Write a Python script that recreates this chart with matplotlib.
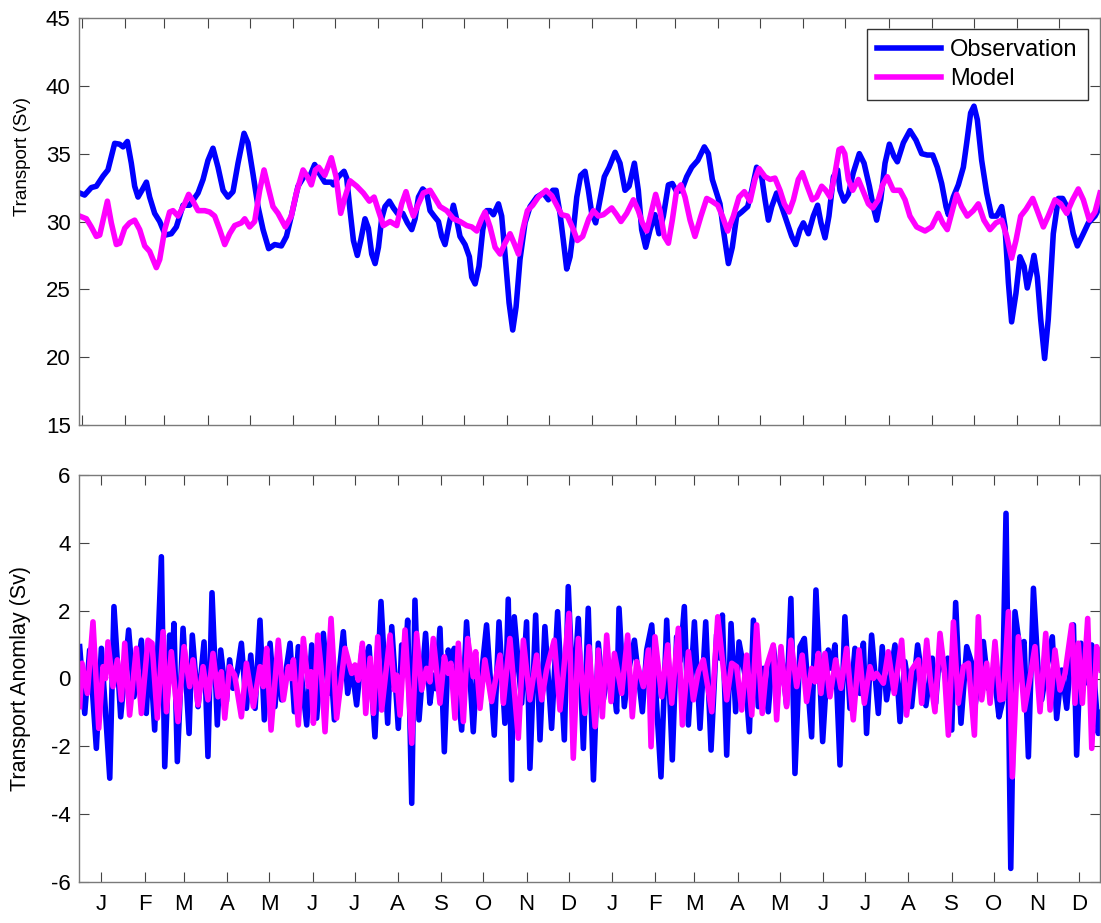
import numpy as np
import matplotlib
matplotlib.use("Agg")
import matplotlib.pyplot as plt

plt.rcParams['font.family'] = ['Liberation Sans', 'DejaVu Sans']
plt.rcParams['axes.unicode_minus'] = False

# ---- calendar (two non-leap years, day 0 = 1 Jan) ----
month_letters = ['J', 'F', 'M', 'A', 'M', 'J', 'J', 'A', 'S', 'O', 'N', 'D'] * 2
month_start_one_year = [0, 31, 59, 90, 120, 151, 181, 212, 243, 273, 304, 334]

# ---- total transport (Sv) ----
obs_transport = [
    (-1.5, 32.1), (2, 31.95), (6.8, 32.5), (10.4, 32.6), (15.2, 33.35), (18.7, 33.8), (23.5, 35.76),
    (27, 35.7), (29.5, 35.5), (32.6, 35.9), (35.4, 34.3), (37.8, 32.6), (40.2, 31.8), (43, 32.3),
    (46.2, 32.9), (48.5, 31.8), (52.1, 30.6), (55.7, 30.0), (59.7, 29.0), (64, 29.1), (67.6, 29.6),
    (72.4, 31.2), (77.1, 31.2), (83.1, 32.1), (86.7, 33.1), (90.2, 34.5), (93.8, 35.4), (97.4, 34.0),
    (101, 32.3), (104.5, 31.8), (108.1, 32.2), (111.7, 34.3), (116, 36.5), (118.8, 35.8), (122.4, 33.5),
    (126, 31.1), (129.6, 29.4), (133.6, 28.0), (137.9, 28.3), (142.7, 28.2), (146.3, 28.9), (149.8, 30.4),
    (154.6, 32.6), (159.4, 33.4), (162.9, 33.3), (166.5, 34.2), (170.1, 33.5), (173.7, 32.9), (178.4, 32.9),
    (179.9, 32.7), (183.5, 33.3), (187.5, 33.7), (189.4, 33.2), (191.8, 30.8), (194.2, 28.6), (197, 27.5),
    (199.4, 28.6), (202.5, 30.2), (204.9, 29.5), (207.3, 27.6), (209.7, 26.9), (212.1, 28.1), (214.4, 30.2),
    (216.8, 31.1), (219.9, 31.5), (222.8, 31.0), (226.4, 30.5), (229.5, 30.6), (232.8, 29.9), (235.9, 29.4),
    (238.3, 30.2), (240.7, 31.8), (243.8, 32.4), (246.6, 32.1), (249, 30.8), (251.9, 30.4), (255, 30.0),
    (257.3, 28.9), (259.7, 28.3), (262.8, 29.9), (265.7, 31.2), (268.1, 30.1), (270.4, 28.9), (274, 28.3),
    (277.1, 27.4), (278.8, 25.9), (281.2, 25.4), (284, 26.7), (286.7, 29.4), (289.5, 30.8), (291.9, 30.8),
    (294.3, 30.5), (297.9, 31.3), (300.2, 30.4), (302.6, 27.6), (305.5, 24.0), (308.1, 22.0), (310.5, 23.7),
    (313.3, 27.2), (316.9, 29.9), (320.5, 31.1), (325.3, 31.8), (330, 32.1), (333.6, 31.6), (336.7, 32.3),
    (339.1, 32.3), (341.9, 30.6), (344.3, 28.6), (346.7, 26.5), (349.1, 27.4), (351.5, 29.4), (353.9, 31.8),
    (356.7, 33.4), (359.8, 33.7), (362.2, 32.3), (364.6, 30.6), (367.4, 29.9), (370.5, 31.6), (373.6, 33.3),
    (377, 34.0), (381.3, 35.1), (384.8, 34.3), (388.4, 32.3), (391.3, 32.6), (395.1, 34.3), (397.9, 32.3),
    (400.3, 29.4), (403.2, 28.1), (406.3, 29.4), (409.8, 30.5), (412.7, 29.1), (415.8, 30.4), (419.4, 32.7),
    (422.2, 32.8), (425.3, 32.2), (428.9, 32.3), (432.5, 33.3), (436.1, 34.0), (440.4, 34.5), (445.1, 35.5),
    (448, 35.0), (450.8, 33.1), (453.9, 32.1), (456.3, 31.3), (458.7, 29.4), (462.3, 26.9), (465.1, 28.1),
    (468.2, 30.4), (471.8, 30.7), (476.1, 31.1), (479, 32.3), (482.5, 34.0), (486.1, 33.3), (488.5, 31.6),
    (490.9, 30.1), (493.3, 31.1), (496.8, 32.1), (500.4, 31.1), (504, 30.0), (507.6, 28.9), (510.4, 28.3),
    (513.5, 29.4), (515.9, 29.9), (519.5, 29.1), (523, 30.4), (526.1, 31.2), (528.5, 29.9), (531.4, 28.8),
    (534.2, 30.4), (537.4, 33.3), (540.4, 33.8), (542.1, 32.3), (545, 31.5), (548.1, 32.0), (551.6, 33.6),
    (555.9, 35.0), (559.3, 34.3), (563.1, 32.6), (565.9, 31.1), (568.3, 30.1), (571.2, 31.6), (574.3, 34.3),
    (577.4, 35.7), (580.7, 34.8), (583.1, 34.4), (587.4, 35.8), (592.1, 36.7), (596.4, 36.0), (600.5, 35.0),
    (604.5, 34.9), (608.4, 34.9), (611.7, 34.0), (614.8, 32.8), (617.9, 31.1), (619.6, 30.5), (623.1, 31.8),
    (626.7, 32.7), (630.3, 34.0), (632.7, 35.8), (635.5, 38.0), (637.9, 38.5), (640.3, 37.5), (643.4, 34.5),
    (647, 32.1), (650.5, 30.4), (654.1, 30.4), (657.7, 31.1), (660.1, 29.6), (662.5, 25.5), (664.8, 22.6),
    (667.9, 24.7), (670.8, 27.4), (673.7, 26.7), (676, 25.1), (678.4, 26.2), (680.8, 27.5), (683.2, 25.9),
    (685.6, 22.8), (688.4, 19.9), (691, 22.8), (694.6, 29.1), (698.2, 31.7), (701.3, 31.7), (705.3, 30.9),
    (708.9, 29.1), (711.8, 28.2), (715.6, 29.0), (719.7, 29.9), (724.4, 30.4), (728, 31.1),
]

model_transport = [
    (-1.5, 30.4), (3.3, 30.2), (6.8, 29.6), (10.4, 28.9), (12.8, 29.0), (15.9, 30.4), (18.3, 31.5),
    (21.1, 29.9), (24.7, 28.3), (27.1, 28.4), (30.7, 29.5), (34.2, 29.9), (37.8, 30.1), (41.4, 29.4),
    (45, 28.2), (48.5, 27.8), (53.3, 26.6), (55.7, 27.2), (59.3, 29.4), (62.8, 30.7), (65.2, 30.8),
    (68.8, 30.4), (73.1, 31.2), (76.4, 32.0), (79.5, 31.5), (83.1, 30.8), (87.9, 30.8), (91.4, 30.7),
    (95, 30.4), (98.6, 29.4), (102.2, 28.3), (105.7, 29.1), (109.3, 29.7), (114.1, 29.9), (116.5, 30.2),
    (120, 29.6), (123.6, 30.0), (127.2, 32.3), (130.3, 33.8), (133.1, 32.6), (136.7, 31.1), (140.3, 30.6),
    (145.5, 29.6), (149.8, 30.4), (153.4, 32.1), (158.2, 33.8), (161.3, 33.3), (164.1, 32.7), (167, 33.8),
    (169.4, 34.0), (173.7, 33.4), (178.4, 34.7), (181.8, 33.3), (185.1, 30.6), (188.2, 31.8), (191.8, 33.0),
    (196.6, 32.6), (201.3, 32.1), (205.6, 31.5), (209, 31.8), (212.1, 30.8), (215.6, 29.7), (220.4, 30.0),
    (225.2, 29.7), (228.7, 31.3), (231.8, 32.2), (234.7, 31.1), (237.1, 30.4), (240.7, 31.3), (244.2, 32.1),
    (249, 32.3), (252.6, 31.7), (256.1, 31.1), (260.9, 30.8), (265.7, 30.2), (270.4, 30.0), (275.2, 29.7),
    (278.8, 29.6), (282.4, 29.3), (285.9, 30.2), (288.3, 30.7), (291.9, 29.6), (295.5, 28.1), (299.1, 27.6),
    (302.6, 28.4), (306.2, 29.1), (309.1, 28.4), (312.2, 27.6), (315.3, 29.4), (318.6, 30.8), (322.4, 31.2),
    (326.4, 31.8), (331.9, 32.3), (336, 31.9), (339.6, 31.2), (343.1, 30.5), (347.2, 30.4), (351.5, 29.4),
    (354.3, 28.6), (358.1, 28.9), (362.5, 30.2), (365.8, 30.8), (369.3, 30.4), (372.9, 30.5), (378.9, 31.0),
    (382.4, 30.5), (385.5, 30.0), (389.6, 30.6), (394.4, 31.6), (397.9, 30.8), (400.8, 29.9), (403.9, 29.3),
    (407, 30.6), (410.3, 32.0), (413.4, 30.8), (416.5, 28.9), (419.4, 28.4), (422.2, 30.1), (425.3, 32.3),
    (428.4, 32.7), (431.3, 31.8), (434.9, 30.1), (438.4, 28.9), (442.7, 30.4), (446.8, 31.7), (450.4, 31.5),
    (454.7, 31.2), (458, 30.4), (461.8, 29.3), (465.9, 30.4), (469.9, 31.8), (473.7, 32.2), (477.8, 31.5),
    (481.3, 33.1), (484.2, 33.9), (488.5, 33.3), (492.1, 33.1), (495.6, 33.2), (499.2, 32.3), (502.3, 31.3),
    (505.7, 30.7), (508.8, 31.6), (512.3, 33.1), (515.2, 33.6), (518.3, 32.7), (522.3, 31.6), (525.4, 31.8),
    (529, 32.6), (531.9, 32.3), (535, 31.8), (538.1, 33.3), (541.4, 35.3), (543.5, 35.4), (545.5, 35.0),
    (548.1, 33.1), (551.2, 32.3), (555.2, 33.1), (558.8, 32.2), (562.4, 31.3), (565.5, 31.0), (569.5, 31.6),
    (572.6, 32.7), (575.9, 33.3), (580.2, 32.3), (585, 32.3), (588.6, 31.6), (592.1, 30.4), (596.9, 29.6),
    (602.9, 29.3), (607.6, 29.6), (612.4, 30.6), (615.5, 29.9), (618.8, 29.4), (621.9, 30.6), (625.5, 32.0),
    (629.1, 31.1), (633.1, 30.4), (637.4, 30.8), (641, 31.3), (645, 30.1), (649.3, 29.4), (653.6, 29.9),
    (657.7, 30.1), (661.3, 28.9), (664.8, 27.3), (667.9, 28.6), (671.3, 30.4), (675.1, 30.9), (679.9, 31.7),
    (683.9, 30.6), (687.5, 29.6), (691, 30.4), (695.8, 31.6), (699.9, 31.3), (704.2, 30.6), (708.4, 31.6),
    (712.5, 32.4), (716.1, 31.6), (720.4, 30.1), (724.4, 30.7), (728, 32.1),
]

# ---- transport anomaly (Sv) ----
obs_anomaly = [
    (-1.5, 0.94), (2.1, -1.03), (5.6, 0.84), (10.4, -2.06), (14.0, 0.89), (20.0, -2.94), (23.0, 2.12),
    (27.8, -1.13), (33.5, 1.43), (37.3, -0.54), (42.6, 1.13), (46.1, -1.03), (48.5, 0.94), (52.1, -1.52),
    (56.9, 3.59), (59.3, -2.60), (62.8, 1.28), (64.3, 0.2), (65.9, 1.62), (68.3, -2.45), (72.4, 1.48),
    (76.7, -1.62), (79.0, 1.28), (83.1, -0.83), (87.4, 1.08), (90.2, -2.30), (93.1, 2.53), (96.9, -1.37),
    (99.3, 0.84), (103.4, -0.68), (105.7, 0.55), (108.1, -0.29), (111.2, 0.2), (114.1, 1.04), (117.7, -0.88),
    (120.8, 0.69), (123.9, -0.88), (127.4, 1.72), (130.5, -1.22), (134.6, 1.04), (138.1, -0.83), (140.5, 0.5),
    (142.9, -0.63), (148.9, 1.04), (152.0, -0.98), (154.8, 0.94), (160.8, -1.37), (164.4, 0.99), (167.9, -1.17),
    (172.7, 1.33), (176.3, -0.44), (178.2, 0.3), (180.6, -1.22), (187.0, 1.38), (190.1, -0.44), (193.0, 0.35),
    (196.5, -0.78), (200.6, 0.94), (203.0, 0.2), (205.4, 0.94), (209.6, -1.72), (213.9, 2.27), (218.7, -1.32),
    (221.6, 1.53), (226.3, -1.47), (228.7, 0.99), (231.1, 0.5), (233.0, 1.72), (235.9, -3.68), (238.2, 2.31),
    (241.1, -1.22), (245.8, 1.33), (248.9, -0.73), (251.3, 0.1), (253.0, -0.3), (256.1, 1.48), (259.2, -2.16),
    (262.0, 0.84), (263.9, 0.4), (266.3, 0.89), (271.6, -1.52), (275.1, 1.67), (279.9, -1.57), (282.3, 0.2),
    (284.7, -0.34), (289.4, 1.58), (294.9, -1.67), (298.3, 1.67), (302.5, -1.32), (304.9, 2.34), (307.3, -2.99),
    (309.2, 1.82), (314.5, -0.73), (318.0, 1.67), (320.4, -2.65), (324.5, 1.87), (327.6, -1.81), (331.1, 1.53),
    (335.9, -1.47), (340.2, 1.97), (345.0, -1.81), (347.8, 2.71), (351.4, -0.68), (355.0, 1.77), (358.6, -2.06),
    (362.1, 2.07), (365.8, -2.99), (369.3, 1.04), (372.9, -0.63), (376.5, 0.3), (380.1, -0.2), (382.4, -0.98),
    (384.1, 2.07), (387.9, -0.83), (390.8, 0.2), (395.1, 1.13), (400.8, -0.98), (403.9, 0.84), (407.5, 1.58),
    (414.1, -2.90), (418.2, 1.72), (422.2, -2.40), (425.3, 1.23), (427.7, 0.5), (430.8, 2.12), (433.7, -1.37),
    (438.0, 1.67), (442.0, -1.47), (446.1, 1.67), (449.9, -2.11), (453.9, 1.3), (456.3, 0.6), (458.0, 1.87),
    (461.1, -2.26), (464.2, 1.62), (467.5, -0.98), (469.9, 1.08), (474.2, 0.1), (477.3, -1.57), (480.2, 1.72),
    (483.7, -0.83), (487.3, 0.3), (490.8, -0.98), (494.4, 0.94), (498.0, -0.2), (500.8, 0.5), (503.9, -0.78),
    (507.0, 2.36), (509.9, -2.80), (513.5, 0.94), (516.6, 1.18), (521.8, -1.72), (524.9, 2.61), (529.7, -1.86),
    (533.7, 0.84), (536.1, 0.3), (538.5, 0.99), (542.1, -2.55), (545.6, 1.82), (549.2, -0.88), (552.8, 0.89),
    (556.4, -0.44), (558.8, 1.04), (561.1, -1.62), (564.7, 1.28), (569.5, -1.03), (572.3, 0.94), (575.4, -0.63),
    (581.4, 0.99), (585.0, -1.27), (588.5, 0.5), (593.3, -0.83), (597.6, 0.99), (603.5, -0.8), (608.1, 0.6),
    (610.5, -0.73), (613.6, 0.94), (616.7, 0.2), (619.1, 0.6), (622.0, -1.52), (624.8, 2.24), (628.6, -1.32),
    (632.7, 0.94), (636.3, 0.45), (638.6, -0.83), (644.6, 1.09), (648.2, -0.3), (651.8, 0.3), (655.8, -1.13),
    (658.2, -0.7), (660.8, 4.87), (664.2, -5.60), (667.2, 1.97), (670.8, 0.84), (673.7, 1.09), (676.8, -2.31),
    (680.4, 2.66), (683.5, 0.4), (686.3, -0.63), (689.9, 0.3), (693.9, 1.23), (697.0, -1.18), (700.6, 0.25),
    (704.2, -0.88), (709.0, 1.58), (711.3, -2.26), (714.4, 1.04), (717.3, -0.14), (722.1, 0.99), (726.8, -1.62),
    (728, -1.0),
]

model_anomaly = [
    (-1.5, -0.83), (0.16, 0.45), (4.0, -0.44), (8.0, 1.67), (12.1, -1.47), (15.2, 0.35), (17.0, 0.0),
    (18.7, 1.08), (22.3, -0.24), (25.4, 0.55), (28.3, -0.63), (30.7, 1.04), (34.2, -1.08), (39.0, 0.89),
    (42.6, -1.03), (47.3, 1.13), (50.2, 1.04), (54.0, -1.17), (58.1, 1.38), (60.5, -0.98), (64.0, 0.79),
    (68.8, -1.27), (73.1, 0.94), (77.1, -0.24), (79.5, 0.55), (83.1, -0.78), (86.7, 0.35), (90.2, -0.63),
    (93.8, 0.74), (97.4, -0.54), (99.8, 0.2), (102.2, -1.17), (105.7, 0.35), (109.3, 0.10), (114.1, -1.13),
    (117.7, 0.45), (122.7, -0.83), (127.4, 0.35), (129.8, -0.24), (132.2, 0.89), (135.3, -1.52), (140.5, 1.13),
    (144.1, -0.63), (147.7, 0.35), (149.6, 0.0), (151.3, 0.55), (154.8, -1.37), (158.4, 1.18), (162.0, -0.24),
    (163.9, 0.2), (165.6, -1.32), (168.7, 1.28), (171.0, 0.35), (173.9, -1.57), (178.2, 1.77), (182.2, -1.17),
    (188.2, 0.89), (193.0, 0.15), (195.3, 0.4), (197.7, -0.05), (200.6, 1.04), (203.0, -1.03), (206.1, 0.6),
    (208.5, -1.03), (211.6, 1.23), (214.4, -0.93), (220.4, 1.28), (223.5, -0.34), (225.1, 0.1), (227.5, -1.08),
    (231.1, 1.43), (235.9, -1.91), (239.4, 1.33), (243.0, -0.34), (246.5, 0.3), (248.9, -0.1), (251.3, 1.18),
    (256.1, -0.73), (259.2, 0.64), (262.0, 0.15), (263.9, 0.45), (266.8, -1.17), (269.2, 1.04), (272.8, -1.27),
    (275.9, 1.18), (279.9, 0.05), (281.6, 0.79), (284.7, -0.88), (288.2, 0.55), (293.0, -0.68), (299.0, 0.69),
    (301.4, -0.73), (306.1, 1.18), (312.1, -1.76), (315.7, 1.13), (320.4, -0.63), (325.2, 0.69), (328.8, -0.63),
    (332.3, 0.25), (337.8, 1.13), (341.9, -0.93), (348.3, 1.92), (351.4, -2.35), (355.0, 1.18), (359.7, -1.03),
    (362.6, 0.94), (367.0, -1.42), (369.3, 0.84), (372.2, -1.13), (375.3, 1.28), (378.4, -0.68), (380.8, 0.74),
    (386.0, -0.44), (390.3, 1.28), (393.6, -1.13), (396.7, 0.5), (401.5, -0.24), (405.1, 0.84), (407.0, -2.01),
    (409.8, 1.23), (414.6, -0.54), (418.9, 0.99), (421.8, -0.73), (426.5, 1.48), (429.4, -1.37), (433.7, 0.79),
    (437.3, -0.63), (440.8, 0.2), (444.4, 0.55), (450.4, -0.98), (454.7, 1.82), (461.1, -0.63), (464.7, 0.45),
    (468.2, 0.35), (471.8, -0.93), (475.4, 0.69), (479.0, -1.08), (482.5, 1.58), (486.5, -1.03), (489.6, 0.35),
    (494.4, 0.99), (496.8, -1.22), (499.9, 0.94), (503.9, -0.83), (507.0, 1.13), (511.1, -0.24), (515.1, 0.69),
    (518.2, -0.68), (521.8, 0.3), (524.2, -0.1), (526.6, 0.74), (528.5, -0.44), (531.3, 0.74), (534.9, -0.54),
    (539.0, 0.55), (542.8, -0.29), (546.8, 0.89), (551.6, -1.22), (555.7, 0.84), (559.5, -0.73), (563.5, 0.35),
    (565.9, 0.0), (568.3, 0.15), (573.1, -0.14), (576.6, 0.79), (580.9, -0.44), (586.2, 1.13), (589.7, -1.08),
    (593.3, 0.25), (598.1, 0.55), (600.5, -0.73), (604.1, 1.13), (606.5, 0.05), (610.0, -0.98), (613.6, 1.33),
    (616.7, 0.25), (619.6, -1.67), (623.2, 1.67), (626.7, -0.73), (630.3, 0.35), (633.9, 0.45), (638.2, -1.67),
    (641.0, 1.82), (643.4, -0.63), (647.0, 0.45), (649.4, -0.73), (652.9, 1.09), (656.5, -0.63), (658.9, -0.6),
    (662.5, 1.97), (665.3, -2.90), (669.6, 1.23), (673.9, -0.93), (677.3, -0.14), (681.5, 0.94), (685.1, -0.98),
    (689.2, 1.33), (692.3, -0.93), (695.8, 0.84), (699.4, -0.34), (703.0, 0.15), (707.8, 1.58), (710.1, -0.73),
    (712.5, 1.04), (715.4, -0.73), (719.2, 1.77), (722.1, -2.06), (725.6, 0.94), (728.7, 0.25),
]

OBS_COLOR = '#0000ff'
MODEL_COLOR = '#ff00ff'
SPINE_COLOR = '#7a7a7a'
TICK_COLOR = '#444444'

month_starts = np.array(month_start_one_year + [d + 365 for d in month_start_one_year])
mid_months = month_starts + 14


def split(pairs):
    d, v = zip(*pairs)
    return np.array(d), np.array(v)


fig = plt.figure(figsize=(11.01, 9.23), dpi=100)
W, H = 1101, 923
ax_top = fig.add_axes([79 / W, (H - 425) / H, 1021 / W, 407 / H])
ax_bot = fig.add_axes([79 / W, (H - 882) / H, 1021 / W, 407 / H])

for ax in (ax_top, ax_bot):
    ax.set_xlim(-2, 728)
    for sp in ax.spines.values():
        sp.set_color(SPINE_COLOR)
        sp.set_linewidth(1.0)
    ax.tick_params(direction='in', length=7, width=0.8, color=TICK_COLOR,
                   top=True, right=True, labelsize=16, pad=6, labelcolor='black')

# upper panel: transport
d, v = split(obs_transport)
ax_top.plot(d, v, color=OBS_COLOR, lw=4, solid_joinstyle='round', label='Observation')
d, v = split(model_transport)
ax_top.plot(d, v, color=MODEL_COLOR, lw=4, solid_joinstyle='round', label='Model')
ax_top.set_ylim(15, 45)
ax_top.set_yticks(np.arange(15, 46, 5))
ax_top.set_xticks(month_starts)
ax_top.set_xticklabels([])
ax_top.set_ylabel('Transport (Sv)', fontsize=13.5)
ax_top.yaxis.set_label_coords(-0.047, 0.66)
leg = ax_top.legend(loc='upper right', bbox_to_anchor=(0.988, 0.973), borderaxespad=0,
                    fontsize=17, frameon=True, fancybox=False, framealpha=1,
                    edgecolor='#333333', handlelength=2.7, handletextpad=0.4,
                    labelspacing=0.3, borderpad=0.42)
leg.get_frame().set_linewidth(1.0)

# lower panel: anomaly
d, v = split(obs_anomaly)
ax_bot.plot(d, v, color=OBS_COLOR, lw=4, solid_joinstyle='round')
d, v = split(model_anomaly)
ax_bot.plot(d, v, color=MODEL_COLOR, lw=4, solid_joinstyle='round')
ax_bot.set_ylim(-6, 6)
ax_bot.set_yticks(np.arange(-6, 7, 2))
ax_bot.set_xticks(mid_months)
ax_bot.set_xticklabels(month_letters)
ax_bot.tick_params(axis='x', pad=9)
ax_bot.set_ylabel('Transport Anomlay (Sv)', fontsize=15.5)
ax_bot.yaxis.set_label_coords(-0.047, 0.5)

fig.savefig('out.png', dpi=100)
